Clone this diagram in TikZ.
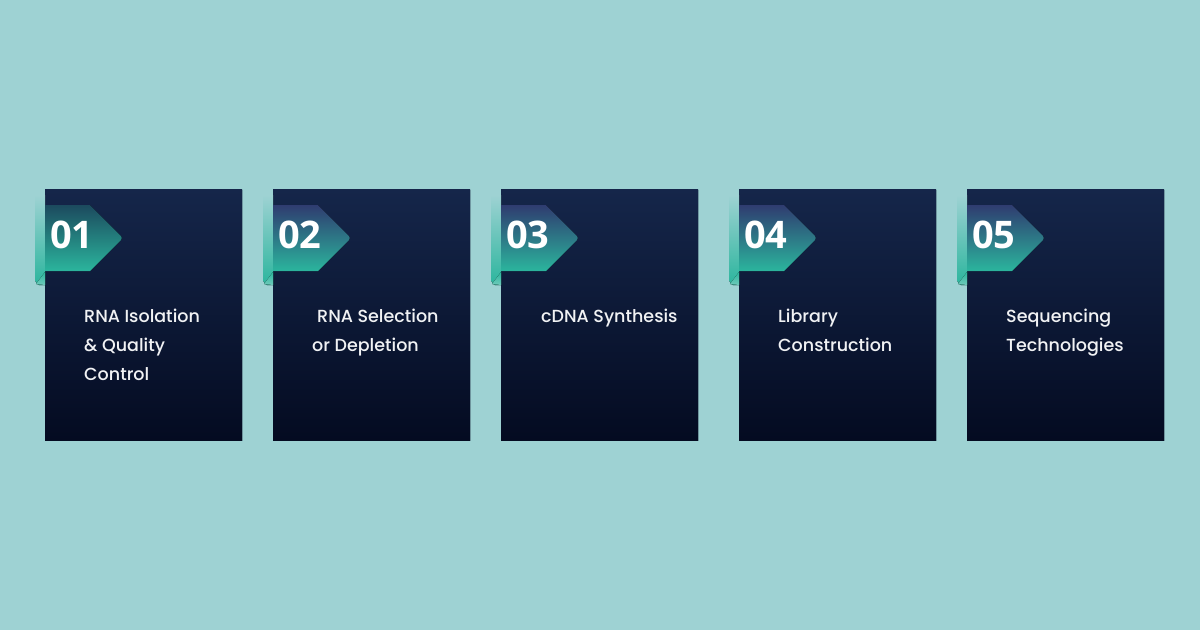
\documentclass[tikz,border=0pt]{standalone}
\usepackage{fontspec}
\setmainfont{Poppins}[UprightFont={* Medium}]
\newfontfamily\numfont{Open Sans}
\usetikzlibrary{calc}
\definecolor{bgteal}{HTML}{9ED2D3}
\definecolor{cardtop}{HTML}{15264A}
\definecolor{cardbot}{HTML}{040B21}
\definecolor{badgeteal}{HTML}{2BB59D}
\definecolor{badgeblue}{HTML}{2F3C70}
\definecolor{badgedeep}{HTML}{1C4A5E}
\definecolor{foldteal}{HTML}{6FCABA}
\definecolor{cardshade}{HTML}{7FA9AF}
\tikzset{%
  card/.style={shape=rectangle,minimum width=197pt,minimum height=251pt,inner sep=0,
    top color=cardtop,bottom color=cardbot,anchor=north west},
  numtext/.style={anchor=base west,inner sep=0,text=white,font=\numfont\bfseries\fontsize{38}{38}\selectfont},
  steptext/.style={anchor=north west,inner sep=0,text=white!94!cardtop,align=left,
    font=\fontsize{17.5}{29}\selectfont}
}
\newcommand{\firstline}{\rule{0pt}{14pt}}
\begin{document}
\begin{tikzpicture}[x=1pt,y=-1pt]
  \fill[bgteal] (0,0) rectangle (1200,630);
  \useasboundingbox (0,0) rectangle (1200,630);
  \foreach \i/\x/\dx/\top/\txt in {%
      1/45/40/badgedeep/{RNA Isolation\\\& Quality\\Control},
      2/273/40/badgeblue/{\hspace{5pt}RNA Selection\\or Depletion},
      3/501/41/badgeblue/{cDNA Synthesis},
      4/739/40/badgeblue/{Library\\Construction},
      5/967/40/badgeblue/{Sequencing\\Technologies}}{
    % card with its thin shade
    \fill[cardshade] (\x+1,190) rectangle (\x+198,441);
    \node[card] (card\i) at (\x,189) {};
    \begin{scope}[shift={(card\i.north west)}]
      % folded tab behind the badge
      \fill[top color=bgteal,bottom color=badgeteal]
        (-10,6) -- (-10,92) to[out=90,in=180] (-6,96) -- (0,96) -- (0,6) -- cycle;
      \fill[top color=badgeteal,bottom color=foldteal]
        (0,83) -- (-9,95) -- (0,96) -- cycle;
      % badge
      \fill[top color=\top,bottom color=badgeteal]
        (0,16) -- (45,16) [rounded corners=3] -- (78,49) [sharp corners] -- (45,82) -- (0,82) -- cycle;
    \end{scope}
    \node[numtext] (num\i) at ($(card\i.north west)+(5,59)$) {0\i};
    \node[steptext] (step\i) at ($(card\i.north west)+(\dx-1,119)$) {\firstline\txt};
  }
\end{tikzpicture}
\end{document}
